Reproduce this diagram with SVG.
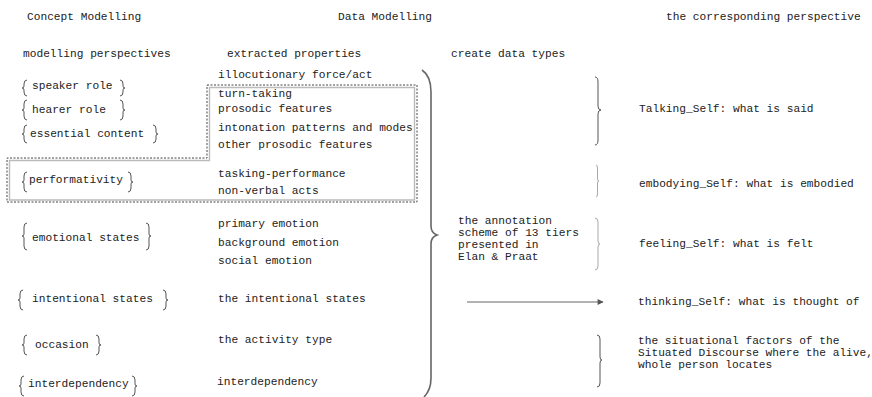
<svg xmlns="http://www.w3.org/2000/svg" width="872" height="397" viewBox="0 0 872 397">
  <style>
    text { font-family: "Liberation Mono", "DejaVu Sans Mono", monospace; font-size: 11.2px; fill: #222; }
    .br { fill: none; stroke: #555; stroke-width: 1; }
    .faint { stroke: #aaa; }
    .big { fill: none; stroke: #666; stroke-width: 1.6; }
    .box { fill: none; stroke: #444; stroke-width: 1; stroke-dasharray: 2 1.5; }
    .shadow { fill: none; stroke: #bbb; stroke-width: 1.4; }
  </style>
  <defs>
    <marker id="arrow" viewBox="0 0 10 10" refX="9" refY="5" markerWidth="8" markerHeight="6" orient="auto" markerUnits="userSpaceOnUse">
      <path d="M0,0 L10,5 L0,10 Z" fill="#555"/>
    </marker>
  </defs>

  <rect width="872" height="397" fill="#fff"/>

  <!-- column headings -->
  <g id="headings">
    <text x="27" y="20">Concept Modelling</text>
    <text x="338" y="20">Data Modelling</text>
    <text x="666" y="20">the corresponding perspective</text>
    <text x="23" y="57">modelling perspectives</text>
    <text x="227" y="57">extracted properties</text>
    <text x="451" y="57">create data types</text>
  </g>

  <!-- dashed frame around the performativity-related properties -->
  <g id="frame">
    <path class="shadow" d="M209.5,87.5 H414.5 V200 H9.5 V160.5 H209.5 Z"/>
    <path class="box" d="M207,85 H417 V202 H7 V158 H207 Z"/>
  </g>

  <!-- modelling perspectives -->
  <g id="speaker-role">
    <path class="br" d="M27,80 Q24,80 24,84 V86 Q24,88 22,88 Q24,88 24,90 V92 Q24,96 27,96"/>
    <text x="32" y="89">speaker role</text>
    <path class="br" d="M120,80 Q123,80 123,84 V86 Q123,88 125,88 Q123,88 123,90 V92 Q123,96 120,96"/>
  </g>
  <g id="hearer-role">
    <path class="br" d="M27,100 Q24,100 24,104 V108 Q24,110 22,110 Q24,110 24,112 V116 Q24,120 27,120"/>
    <text x="32" y="113">hearer role</text>
    <path class="br" d="M120,100 Q123,100 123,104 V108 Q123,110 125,110 Q123,110 123,112 V116 Q123,120 120,120"/>
  </g>
  <g id="essential-content">
    <path class="br" d="M27,125 Q24,125 24,129 V132 Q24,134 22,134 Q24,134 24,136 V139 Q24,143 27,143"/>
    <text x="30" y="137">essential content</text>
    <path class="br" d="M153,125 Q156,125 156,129 V132 Q156,134 158,134 Q156,134 156,136 V139 Q156,143 153,143"/>
  </g>
  <g id="performativity">
    <path class="br" d="M27,172 Q24,172 24,176 V180 Q24,182 22,182 Q24,182 24,184 V188 Q24,192 27,192"/>
    <text x="29" y="183">performativity</text>
    <path class="br" d="M128,172 Q131,172 131,176 V180 Q131,182 133,182 Q131,182 131,184 V188 Q131,192 128,192"/>
  </g>
  <g id="emotional-states">
    <path class="br" d="M27,223 Q24,223 24,227 V234 Q24,236 22,236 Q24,236 24,238 V246 Q24,250 27,250"/>
    <text x="32" y="241">emotional states</text>
    <path class="br" d="M146,223 Q149,223 149,227 V234 Q149,236 151,236 Q149,236 149,238 V246 Q149,250 146,250"/>
  </g>
  <g id="intentional-states">
    <path class="br" d="M23,290 Q20,290 20,294 V298 Q20,300 18,300 Q20,300 20,302 V306 Q20,310 23,310"/>
    <text x="32" y="302">intentional states</text>
    <path class="br" d="M163,290 Q166,290 166,294 V298 Q166,300 168,300 Q166,300 166,302 V306 Q166,310 163,310"/>
  </g>
  <g id="occasion">
    <path class="br" d="M27,335 Q24,335 24,339 V343 Q24,345 22,345 Q24,345 24,347 V351 Q24,355 27,355"/>
    <text x="35" y="348">occasion</text>
    <path class="br" d="M96,335 Q99,335 99,339 V343 Q99,345 101,345 Q99,345 99,347 V351 Q99,355 96,355"/>
  </g>
  <g id="interdependency">
    <path class="br" d="M24,376 Q21,376 21,380 V384 Q21,386 19,386 Q21,386 21,388 V392 Q21,396 24,396"/>
    <text x="28" y="387">interdependency</text>
    <path class="br" d="M132,376 Q135,376 135,380 V384 Q135,386 137,386 Q135,386 135,388 V392 Q135,396 132,396"/>
  </g>

  <!-- extracted properties -->
  <g id="properties">
    <text x="218" y="78">illocutionary force/act</text>
    <text x="218" y="97">turn-taking</text>
    <text x="218" y="112">prosodic features</text>
    <text x="218" y="131">intonation patterns and modes</text>
    <text x="218" y="148">other prosodic features</text>
    <text x="218" y="177">tasking-performance</text>
    <text x="218" y="194">non-verbal acts</text>
    <text x="218" y="227">primary emotion</text>
    <text x="218" y="246">background emotion</text>
    <text x="218" y="264">social emotion</text>
    <text x="218" y="302">the intentional states</text>
    <text x="218" y="343">the activity type</text>
    <text x="217" y="385">interdependency</text>
  </g>

  <!-- data types -->
  <g id="annotation-scheme">
    <text x="458" y="224">the annotation</text>
    <text x="458" y="236">scheme of 13 tiers</text>
    <text x="458" y="248">presented in</text>
    <text x="458" y="260">Elan &amp; Praat</text>
  </g>

  <!-- corresponding perspectives -->
  <g id="talking-self">
    <path class="br" d="M595,77 Q598,77 598,82 V106 Q598,110 601,110 Q598,110 598,114 V140 Q598,145 595,145"/>
    <text x="639" y="112">Talking_Self: what is said</text>
  </g>
  <g id="embodying-self">
    <path class="br faint" d="M596,165 Q597.5,165 597.5,168 V179 Q597.5,181 599,181 Q597.5,181 597.5,183 V194 Q597.5,197 596,197"/>
    <text x="639" y="187">embodying_Self: what is embodied</text>
  </g>
  <g id="feeling-self">
    <path class="br faint" d="M595,218 Q598,218 598,222 V241 Q598,244 600,244 Q598,244 598,247 V266 Q598,270 595,270"/>
    <text x="639" y="247">feeling_Self: what is felt</text>
  </g>
  <g id="thinking-self">
    <text x="638" y="305">thinking_Self: what is thought of</text>
  </g>
  <g id="situated-discourse">
    <path class="br" d="M597,335 Q600,335 600,339 V357 Q600,360 602,360 Q600,360 600,363 V383 Q600,387 597,387"/>
    <text x="638" y="344">the situational factors of the</text>
    <text x="638" y="356">Situated Discourse where the alive,</text>
    <text x="638" y="368">whole person locates</text>
  </g>

  <!-- connectors -->
  <g id="connectors">
    <path class="big" d="M422,70 Q431,76 431,92 V226 Q431,233 437,235 Q431,237 431,244 V378 Q431,390 424,397"/>
    <line x1="467" y1="302" x2="603" y2="302" stroke="#666" stroke-width="1" marker-end="url(#arrow)"/>
  </g>
</svg>
